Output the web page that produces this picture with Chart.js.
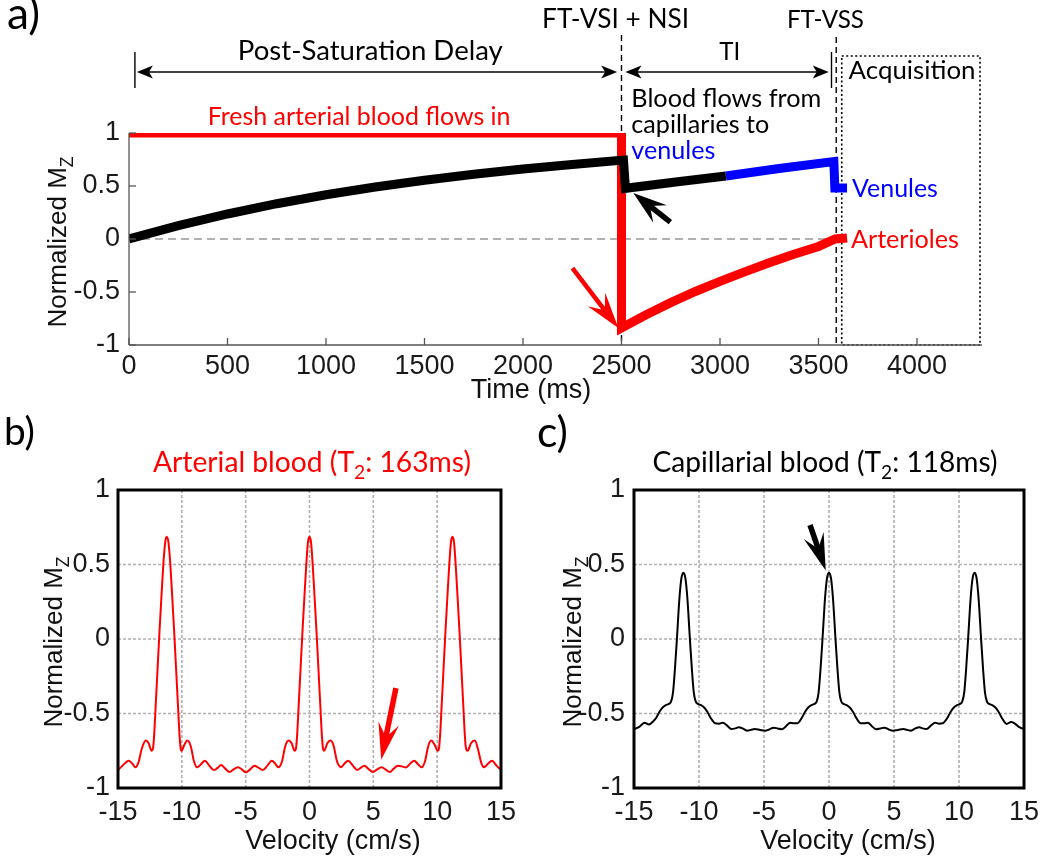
<!DOCTYPE html>
<html><head><meta charset="utf-8">
<script src="https://cdn.jsdelivr.net/npm/chart.js@4.4.1/dist/chart.umd.min.js"></script>
<style>
html,body{margin:0;padding:0;background:#fff;}
#wrap{position:relative;width:1049px;height:858px;overflow:hidden;background:#fff}
canvas{position:absolute}
</style></head><body>
<div id="wrap">
<canvas id="ca" width="1049" height="420" style="left:0;top:0;width:1049px;height:420px"></canvas>
<canvas id="cb" width="524" height="458" style="left:0;top:400px;width:524px;height:458px"></canvas>
<canvas id="cc" width="525" height="458" style="left:524px;top:400px;width:525px;height:458px"></canvas>
</div>
<script>
// ---------------- DATA ----------------
// Panel a: time (ms) and normalized Mz
const aXTicks = [0, 500, 1000, 1500, 2000, 2500, 3000, 3500, 4000];
const aYTicks = [-1, -0.5, 0, 0.5, 1];
const aRedT   = [0, 2500, 2500, 2625, 2750, 2875, 3000, 3125, 3250, 3375, 3500, 3585, 3645];
const aRedY   = [1, 1, -0.84, -0.715, -0.60, -0.495, -0.40, -0.31, -0.225, -0.145, -0.07, 0.0, 0.01];
const aBlackT = [0, 250, 500, 750, 1000, 1250, 1500, 1750, 2000, 2250, 2510, 2520, 2775, 3030];
const aBlackY = [0, 0.126, 0.236, 0.333, 0.417, 0.49, 0.555, 0.611, 0.66, 0.703, 0.745, 0.478, 0.537, 0.594];
const aBlueT  = [3030, 3300, 3578, 3583, 3645];
const aBlueY  = [0.594, 0.665, 0.73, 0.48, 0.48];

// Panels b, c: velocity (cm/s) and normalized Mz
const bcXTicks = [-15, -10, -5, 0, 5, 10, 15];
const bcYTicks = [-1, -0.5, 0, 0.5, 1];
const bV = [-15,-14.65,-14.15,-13.85,-13.64,-13.4,-13.15,-12.82,-12.6,-12.37,-12.25,-12.15,-12.05,-11.9,-11.75,-11.6,-11.45,-11.3,-11.2,-11.05,-10.9,-10.75,-10.6,-10.45,-10.3,-10.2,-10.1,-10.02,-9.8,-9.57,-9.3,-9.05,-8.8,-8.5,-8.19,-7.85,-7.48,-7.2,-6.92,-6.6,-6.26,-5.95,-5.6,-5.3,-4.98,-4.65,-4.3,-3.98,-3.66,-3.3,-2.95,-2.7,-2.44,-2.15,-1.9,-1.63,-1.4,-1.17,-1.05,-0.95,-0.85,-0.7,-0.55,-0.4,-0.25,-0.12,0,
  0.12,0.25,0.4,0.55,0.7,0.85,0.95,1.05,1.15,1.4,1.65,1.9,2.15,2.47,2.75,3.03,3.4,3.74,4.0,4.3,4.65,4.96,5.3,5.65,5.95,6.29,6.6,6.92,7.25,7.56,7.9,8.2,8.5,8.78,9.05,9.3,9.54,9.8,10.05,10.15,10.25,10.35,10.5,10.65,10.8,10.95,11.08,11.2,11.32,11.45,11.6,11.75,11.9,12.05,12.15,12.25,12.39,12.65,12.95,13.2,13.45,13.66,13.95,14.3,14.65,15];
const bY = [-0.879,-0.85,-0.817,-0.84,-0.861,-0.83,-0.74,-0.682,-0.70,-0.75,-0.73,-0.62,-0.45,-0.2,0.05,0.28,0.5,0.65,0.686,0.65,0.5,0.28,0.05,-0.2,-0.45,-0.62,-0.73,-0.75,-0.71,-0.682,-0.72,-0.82,-0.861,-0.84,-0.817,-0.85,-0.88,-0.865,-0.846,-0.87,-0.893,-0.875,-0.86,-0.875,-0.895,-0.875,-0.85,-0.865,-0.879,-0.85,-0.817,-0.835,-0.861,-0.82,-0.72,-0.682,-0.70,-0.75,-0.73,-0.62,-0.45,-0.2,0.05,0.28,0.5,0.65,0.686,
  0.65,0.5,0.28,0.05,-0.2,-0.45,-0.62,-0.73,-0.75,-0.70,-0.682,-0.72,-0.82,-0.86,-0.835,-0.817,-0.85,-0.879,-0.865,-0.85,-0.875,-0.893,-0.875,-0.86,-0.875,-0.893,-0.87,-0.85,-0.855,-0.862,-0.835,-0.817,-0.84,-0.861,-0.82,-0.72,-0.682,-0.71,-0.75,-0.73,-0.62,-0.45,-0.2,0.05,0.28,0.5,0.65,0.686,0.65,0.5,0.28,0.05,-0.2,-0.45,-0.62,-0.73,-0.75,-0.70,-0.682,-0.74,-0.83,-0.861,-0.84,-0.817,-0.85,-0.88];
const cV = [-15,-14.6,-14.19,-13.84,-13.5,-13.3,-13.05,-12.8,-12.55,-12.35,-12.15,-12.0,-11.85,-11.7,-11.5,-11.35,-11.2,-11.05,-10.9,-10.7,-10.55,-10.4,-10.25,-10.05,-9.85,-9.6,-9.35,-9.1,-8.75,-8.45,-8.17,-7.85,-7.51,-7.2,-6.95,-6.65,-6.31,-6.0,-5.72,-5.3,-4.91,-4.6,-4.27,-3.95,-3.63,-3.3,-2.99,-2.75,-2.45,-2.1,-1.85,-1.6,-1.35,-1.15,-0.95,-0.8,-0.65,-0.5,-0.3,-0.15,0,
  0.15,0.3,0.5,0.65,0.8,0.95,1.15,1.35,1.6,1.85,2.1,2.45,2.75,2.99,3.3,3.63,3.95,4.27,4.6,4.91,5.3,5.72,6.0,6.31,6.65,6.95,7.2,7.51,7.85,8.17,8.45,8.75,9.1,9.35,9.6,9.85,10.05,10.25,10.4,10.55,10.7,10.9,11.05,11.2,11.35,11.5,11.7,11.85,12.0,12.15,12.35,12.55,12.8,13.05,13.3,13.66,14.0,14.25,14.6,15];
const cY = [-0.605,-0.59,-0.562,-0.573,-0.55,-0.53,-0.49,-0.46,-0.443,-0.437,-0.42,-0.36,-0.2,0.0,0.28,0.41,0.445,0.41,0.28,0.0,-0.2,-0.36,-0.42,-0.437,-0.443,-0.46,-0.49,-0.53,-0.566,-0.568,-0.562,-0.58,-0.604,-0.6,-0.593,-0.6,-0.615,-0.61,-0.604,-0.61,-0.615,-0.607,-0.595,-0.6,-0.606,-0.585,-0.562,-0.565,-0.566,-0.53,-0.49,-0.46,-0.443,-0.437,-0.42,-0.36,-0.2,0.0,0.28,0.41,0.445,
  0.41,0.28,0.0,-0.2,-0.36,-0.42,-0.437,-0.443,-0.46,-0.49,-0.53,-0.566,-0.565,-0.562,-0.585,-0.606,-0.6,-0.595,-0.607,-0.615,-0.61,-0.604,-0.61,-0.615,-0.6,-0.593,-0.6,-0.604,-0.58,-0.562,-0.568,-0.566,-0.53,-0.49,-0.46,-0.443,-0.437,-0.42,-0.36,-0.2,0.0,0.28,0.41,0.445,0.41,0.28,0.0,-0.2,-0.36,-0.42,-0.437,-0.443,-0.46,-0.49,-0.53,-0.57,-0.557,-0.565,-0.59,-0.605];

// ---------------- HELPERS ----------------
const FT = '"Liberation Sans", Arial, sans-serif';
const FA = 'Lato, "Open Sans", sans-serif';
Chart.defaults.font.family = FT;
const pts = (xs, ys) => xs.map((x, i) => ({x: x, y: ys[i]}));

function setFont(ctx, size, fam) { ctx.font = size + 'px ' + fam; }
function measureParts(ctx, parts, size, fam) {
  let w = 0;
  for (const [t, sub] of parts) { setFont(ctx, sub ? size * 0.68 : size, fam); w += ctx.measureText(t).width; }
  return w;
}
function drawParts(ctx, parts, x, y, size, fam, color, align) {
  const w = measureParts(ctx, parts, size, fam);
  let cx = align === 'center' ? x - w / 2 : (align === 'right' ? x - w : x);
  ctx.fillStyle = color; ctx.textBaseline = 'alphabetic'; ctx.textAlign = 'left';
  for (const [t, sub] of parts) {
    setFont(ctx, sub ? size * 0.68 : size, fam);
    ctx.fillText(t, cx, y + (sub ? size * 0.26 : 0));
    cx += ctx.measureText(t).width;
  }
}
function fitSize(ctx, parts, fam, w) { return 100 * w / measureParts(ctx, parts, 100, fam); }
function label(ctx, parts, x, y, w, color, align) {
  const s = fitSize(ctx, parts, FA, w);
  drawParts(ctx, parts, x, y, s, FA, color, align);
}
function rotTitle(ctx, x, y, size) {
  ctx.save(); ctx.translate(x, y); ctx.rotate(-Math.PI / 2);
  drawParts(ctx, [['Normalized M', false], ['Z', true]], 0, 0, size, FT, '#111', 'center');
  ctx.restore();
}
function vline(ctx, x, y1, y2, dash, w, color) {
  ctx.save(); ctx.strokeStyle = color; ctx.lineWidth = w; ctx.setLineDash(dash);
  ctx.beginPath(); ctx.moveTo(x, y1); ctx.lineTo(x, y2); ctx.stroke(); ctx.restore();
}
function hline(ctx, x1, x2, y, dash, w, color) {
  ctx.save(); ctx.strokeStyle = color; ctx.lineWidth = w; ctx.setLineDash(dash);
  ctx.beginPath(); ctx.moveTo(x1, y); ctx.lineTo(x2, y); ctx.stroke(); ctx.restore();
}
function dblArrow(ctx, x1, x2, y) {
  ctx.save(); ctx.strokeStyle = '#000'; ctx.fillStyle = '#000'; ctx.lineWidth = 1.6;
  ctx.beginPath(); ctx.moveTo(x1 + 8, y); ctx.lineTo(x2 - 8, y); ctx.stroke();
  for (const [tx, d] of [[x1, -1], [x2, 1]]) {
    ctx.beginPath(); ctx.moveTo(tx, y); ctx.lineTo(tx - d * 16, y - 6.5);
    ctx.lineTo(tx - d * 12, y); ctx.lineTo(tx - d * 16, y + 6.5); ctx.closePath(); ctx.fill();
  }
  ctx.restore();
}
function notchArrow(ctx, tx, ty, hx, hy, L, W, sw, color) {
  const dx = hx - tx, dy = hy - ty, len = Math.hypot(dx, dy);
  const ux = dx / len, uy = dy / len, px = -uy, py = ux;
  const bx = hx - ux * L, by = hy - uy * L;
  const nx = hx - ux * L * 0.62, ny = hy - uy * L * 0.62;
  ctx.save();
  ctx.strokeStyle = color; ctx.lineWidth = sw; ctx.lineCap = 'butt';
  ctx.beginPath(); ctx.moveTo(tx, ty); ctx.lineTo(nx, ny); ctx.stroke();
  ctx.fillStyle = color; ctx.beginPath(); ctx.moveTo(hx, hy);
  ctx.lineTo(bx + px * W / 2, by + py * W / 2); ctx.lineTo(nx, ny);
  ctx.lineTo(bx - px * W / 2, by - py * W / 2); ctx.closePath(); ctx.fill();
  ctx.restore();
}
function fixedScales(yW, xH, xMin, xMax, yMin, yMax, xT, yT, xPad, yPad) {
  const tickFont = {family: FT, size: 27};
  return {
    x: {type: 'linear', min: xMin, max: xMax,
        afterFit: s => { s.height = xH; },
        afterBuildTicks: s => { s.ticks = xT.map(v => ({value: v})); },
        grid: {display: false, drawTicks: false},
        border: {display: false},
        ticks: {padding: xPad, font: tickFont, color: '#1a1a1a', maxRotation: 0, autoSkip: false, callback: v => String(v)}},
    y: {type: 'linear', min: yMin, max: yMax,
        afterFit: s => { s.width = yW; },
        afterBuildTicks: s => { s.ticks = yT.map(v => ({value: v})); },
        grid: {display: false, drawTicks: false},
        border: {display: false},
        ticks: {padding: yPad, font: tickFont, color: '#1a1a1a', autoSkip: false, callback: v => String(v)}}
  };
}
const baseOpts = {responsive: false, animation: false, devicePixelRatio: 1,
  plugins: {legend: {display: false}, tooltip: {enabled: false}},
  elements: {point: {radius: 0}, line: {tension: 0, borderJoinStyle: 'miter', borderCapStyle: 'butt'}}};

// ---------------- PANEL A ----------------
const annotA = {
  id: 'annotA',
  beforeDatasetsDraw(chart) {
    const ctx = chart.ctx, X = v => chart.scales.x.getPixelForValue(v), Y = v => chart.scales.y.getPixelForValue(v);
    const a = chart.chartArea;
    hline(ctx, X(0), X(3590), Y(0), [8, 5], 1.2, '#666');
    vline(ctx, X(2500), 35, a.bottom, [6, 4], 1.4, '#000');
    vline(ctx, X(3590), 37, a.bottom, [6, 4], 1.4, '#000');
    ctx.save(); ctx.strokeStyle = '#000'; ctx.lineWidth = 1.6; ctx.setLineDash([2, 2.5]);
    ctx.strokeRect(X(3618), 56, X(4320) - X(3618), a.bottom - 56); ctx.restore();
  },
  afterDatasetsDraw(chart) {
    const ctx = chart.ctx, X = v => chart.scales.x.getPixelForValue(v), Y = v => chart.scales.y.getPixelForValue(v);
    const a = chart.chartArea;
    hline(ctx, a.left, a.right, a.bottom, [], 1.3, '#555');
    vline(ctx, a.left, a.top, a.bottom, [], 1.3, '#555');
    aXTicks.forEach(v => vline(ctx, X(v), a.bottom, a.bottom - 7, [], 1.3, '#555'));
    aYTicks.forEach(v => hline(ctx, a.left, a.left + 7, Y(v), [], 1.3, '#555'));
    vline(ctx, X(30), 52, 88, [], 1.4, '#000');
    vline(ctx, X(3566), 52, 88, [], 1.4, '#000');
    dblArrow(ctx, X(40), X(2478), 72);
    dblArrow(ctx, X(2520), X(3552), 72);
    label(ctx, [['a)', false]], 7, 29, 33, '#000', 'left');
    label(ctx, [['FT-VSI + NSI', false]], X(2470), 28, 147, '#000', 'center');
    label(ctx, [['FT-VSS', false]], X(3535), 28, 77, '#000', 'center');
    label(ctx, [['Post-Saturation Delay', false]], X(1225), 60, 265, '#000', 'center');
    label(ctx, [['TI', false]], X(3050), 60, 21, '#000', 'center');
    label(ctx, [['Acquisition', false]], X(3975), 79, 127, '#000', 'center');
    label(ctx, [['Blood flows from', false]], X(2550), 107, 190, '#000', 'left');
    label(ctx, [['capillaries to', false]], X(2550), 133, 138, '#000', 'left');
    label(ctx, [['venules', false]], X(2550), 159, 84, '#0000ff', 'left');
    label(ctx, [['Fresh arterial blood flows in', false]], X(1168), 125, 303, '#ff0000', 'center');
    label(ctx, [['Venules', false]], X(3670), 197, 86, '#0000ff', 'left');
    label(ctx, [['Arterioles', false]], X(3665), 248, 108, '#ff0000', 'left');
    notchArrow(ctx, X(2251), Y(-0.274), X(2484), Y(-0.84), 36, 22, 4.5, '#ff0000');
    notchArrow(ctx, X(2748), Y(0.16), X(2560), Y(0.434), 34, 22, 5.5, '#000');
    rotTitle(ctx, 66, 242, 26);
    drawParts(ctx, [['Time (ms)', false]], 531, 398, 27, FT, '#111', 'center');
  }
};
new Chart(document.getElementById('ca'), {
  type: 'line',
  data: {datasets: [
    {data: pts(aBlackT, aBlackY), borderColor: '#000000', borderWidth: 9},
    {data: pts(aBlueT, aBlueY), borderColor: '#0000ff', borderWidth: 9},
    {data: pts(aRedT, aRedY), borderColor: '#ff0000', borderWidth: 9}
  ]},
  options: Object.assign({}, baseOpts, {
    layout: {padding: {left: 0, top: 133, right: 67, bottom: 0}},
    scales: fixedScales(129, 75, 0, 4330, -1, 1, aXTicks, aYTicks, 5, 9)
  }),
  plugins: [annotA]
});

// ---------------- PANELS B, C ----------------
function boxPlugin(opts) {
  return {
    id: 'box' + opts.tag,
    beforeDatasetsDraw(chart) {
      const ctx = chart.ctx, X = v => chart.scales.x.getPixelForValue(v), Y = v => chart.scales.y.getPixelForValue(v);
      const a = chart.chartArea;
      bcXTicks.forEach(v => vline(ctx, X(v), a.top, a.bottom, [3, 2], 1.6, '#b0b0b0'));
      bcYTicks.forEach(v => hline(ctx, a.left, a.right, Y(v), [3, 2], 1.6, '#b0b0b0'));
    },
    afterDatasetsDraw(chart) {
      const ctx = chart.ctx, X = v => chart.scales.x.getPixelForValue(v), Y = v => chart.scales.y.getPixelForValue(v);
      const a = chart.chartArea;
      ctx.save(); ctx.strokeStyle = '#000'; ctx.lineWidth = 3;
      ctx.strokeRect(a.left, a.top, a.right - a.left, a.bottom - a.top); ctx.restore();
      label(ctx, [[opts.tag + ')', false]], opts.tagX, opts.tagY, 31, '#000', 'left');
      label(ctx, opts.title, opts.titleX, 72, opts.titleW, opts.titleColor, 'center');
      rotTitle(ctx, opts.ytX, 242, 26);
      drawParts(ctx, [['Velocity (cm/s)', false]], opts.xtX, 449, 27, FT, '#111', 'center');
      notchArrow(ctx, X(opts.arrow[0]), Y(opts.arrow[1]), X(opts.arrow[2]), Y(opts.arrow[3]), 37, 21, 5.5, opts.arrowColor);
    }
  };
}
new Chart(document.getElementById('cb'), {
  type: 'line',
  data: {datasets: [{data: pts(bV, bY), borderColor: '#ff0000', borderWidth: 2, cubicInterpolationMode: 'monotone'}]},
  options: Object.assign({}, baseOpts, {
    layout: {padding: {left: 0, top: 90, right: 14, bottom: 0}},
    scales: fixedScales(118, 70, -15, 15, -1, 1, bcXTicks, bcYTicks, 8, 8)
  }),
  plugins: [boxPlugin({tag: 'b', tagX: 4, tagY: 45,
    title: [['Arterial blood (T', false], ['2', true], [': 163ms)', false]], titleX: 312, titleW: 318, titleColor: '#ff0000',
    ytX: 62, xtX: 333, arrow: [6.77, -0.33, 5.62, -0.81], arrowColor: '#ff0000'})]
});
new Chart(document.getElementById('cc'), {
  type: 'line',
  data: {datasets: [{data: pts(cV, cY), borderColor: '#000000', borderWidth: 2, cubicInterpolationMode: 'monotone'}]},
  options: Object.assign({}, baseOpts, {
    layout: {padding: {left: 0, top: 90, right: 25, bottom: 0}},
    scales: fixedScales(110, 70, -15, 15, -1, 1, bcXTicks, bcYTicks, 8, 9)
  }),
  plugins: [boxPlugin({tag: 'c', tagX: 13, tagY: 47,
    title: [['Capillarial blood (T', false], ['2', true], [': 118ms)', false]], titleX: 301, titleW: 345, titleColor: '#000',
    ytX: 57, xtX: 324, arrow: [-1.46, 0.765, -0.25, 0.46], arrowColor: '#000'})]
});
</script>
</body></html>
